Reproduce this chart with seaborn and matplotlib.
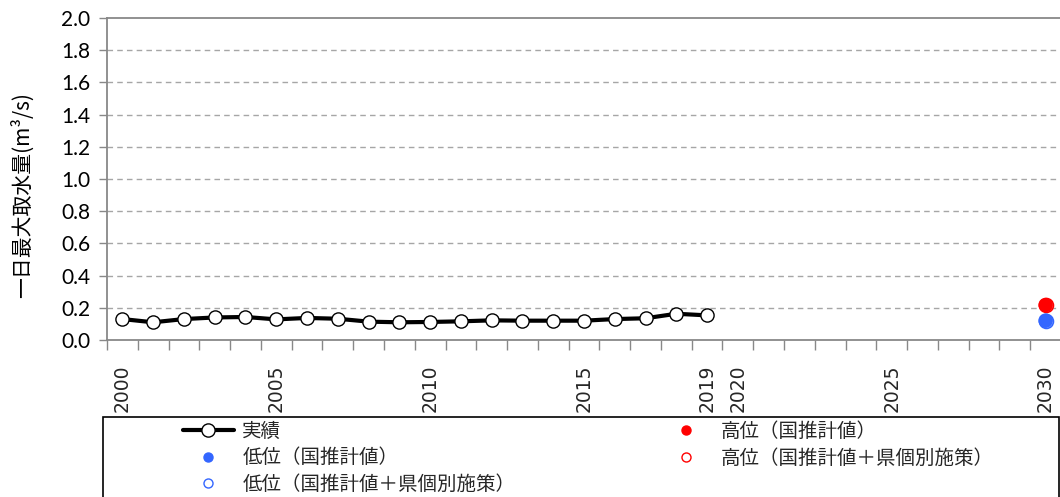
import matplotlib
matplotlib.use("Agg")
import matplotlib.pyplot as plt
from matplotlib.lines import Line2D
from matplotlib.patches import Rectangle
import seaborn as sns
import pandas as pd
import numpy as np

# ---- data ----
years = list(range(2000, 2031))
actual_years = list(range(2000, 2020))
actual_values = [0.13, 0.11, 0.13, 0.14, 0.143, 0.128, 0.137, 0.132, 0.114, 0.11,
                 0.112, 0.116, 0.122, 0.12, 0.12, 0.12, 0.13, 0.135, 0.163, 0.153]
proj_year = [2030]
high_national = [0.217]
low_national = [0.12]
high_pref = [0.217]
low_pref = [0.12]
tick_label_years = [2000, 2005, 2010, 2015, 2019, 2020, 2025, 2030]
y_ticks = [0.0, 0.2, 0.4, 0.6, 0.8, 1.0, 1.2, 1.4, 1.6, 1.8, 2.0]

ylabel = "一日最大取水量(m³/s)"
lab_actual = "実績"
lab_high = "高位（国推計値）"
lab_low = "低位（国推計値）"
lab_high_pref = "高位（国推計値＋県個別施策）"
lab_low_pref = "低位（国推計値＋県個別施策）"

sns.set_theme(style="white")
plt.rcParams['font.family'] = ['Noto Sans CJK JP', 'DejaVu Sans']

W, H = 1060, 497
fig = plt.figure(figsize=(W / 100, H / 100), dpi=100)
ax = fig.add_axes([107 / W, (H - 340) / H, (1061 - 107) / W, (340 - 18) / H])

BLUE = "#3366FF"
RED = "#FF0000"
GRID = "#A6A6A6"
AXC = "#888888"

df_act = pd.DataFrame({"year": actual_years, "value": actual_values})
sns.lineplot(data=df_act, x="year", y="value", ax=ax, color="black", linewidth=3.0,
             marker="o", markersize=9.5, markerfacecolor="white",
             markeredgecolor="black", markeredgewidth=1.0, zorder=5)

# projections (open markers first, filled on top)
sns.scatterplot(x=proj_year, y=high_pref, ax=ax, s=100, facecolor="white",
                edgecolor=RED, linewidth=1.2, zorder=4)
sns.scatterplot(x=proj_year, y=low_pref, ax=ax, s=100, facecolor="white",
                edgecolor=BLUE, linewidth=1.2, zorder=4)
sns.scatterplot(x=proj_year, y=high_national, ax=ax, s=110, color=RED,
                edgecolor="none", zorder=6)
sns.scatterplot(x=proj_year, y=low_national, ax=ax, s=110, color=BLUE,
                edgecolor="none", zorder=6)

ax.set_xlim(years[0] - 0.5, years[-1] + 0.5)
ax.set_ylim(0, 2.0)

# y axis
ax.set_yticks(y_ticks)
ax.set_yticklabels([f"{v:.1f}" for v in y_ticks], fontsize=15,
                   family=['Lato', 'DejaVu Sans'], color="black")
ax.tick_params(axis="y", direction="out", length=6, width=1, color=AXC, pad=6, left=True)
for v in y_ticks[1:-1]:
    ax.axhline(v, color=GRID, linewidth=1.0, linestyle=(0, (4, 3)), zorder=1)

# x axis: category-style ticks at boundaries, labels at selected centers
ax.set_xticks(tick_label_years)
ax.set_xticklabels([str(y) for y in tick_label_years], rotation=90, fontsize=13.5,
                   family=['DejaVu Sans'], va="top", ha="center")
ax.tick_params(axis="x", which="major", length=0, pad=18, bottom=True)
ax.set_xticks(np.arange(years[0] - 0.5, years[-1] + 1.0, 1.0), minor=True)
ax.tick_params(axis="x", which="minor", direction="out", length=7, width=1,
               color=AXC, bottom=True)

for side in ["left", "bottom", "top"]:
    ax.spines[side].set_visible(True)
    ax.spines[side].set_color(AXC)
    ax.spines[side].set_linewidth(1.3)
ax.spines["right"].set_visible(False)

ax.set_xlabel("")
ax.set_ylabel(ylabel, fontsize=15, color="black", ha="center", va="center")
ax.yaxis.set_label_coords((22 - 107) / 954, (340 - 195) / 322)

# legend box
rect = Rectangle((103 / W, -0.05), (1059 - 103) / W, (H - 417) / H + 0.05,
                 transform=fig.transFigure, facecolor="white", edgecolor="black",
                 linewidth=1.2, clip_on=False)
fig.patches.append(rect)

h_actual = Line2D([], [], color="black", linewidth=3.0, marker="o", markersize=9.5,
                  markerfacecolor="white", markeredgecolor="black", markeredgewidth=1.0)
h_low = Line2D([], [], linestyle="none", marker="o", markersize=6.5, color=BLUE)
h_low_pref = Line2D([], [], linestyle="none", marker="o", markersize=6.5,
                    markerfacecolor="white", markeredgecolor=BLUE, markeredgewidth=1.0)
h_high = Line2D([], [], linestyle="none", marker="o", markersize=6.5, color=RED)
h_high_pref = Line2D([], [], linestyle="none", marker="o", markersize=6.5,
                     markerfacecolor="white", markeredgecolor=RED, markeredgewidth=1.0)

common = dict(frameon=False, fontsize=14, handlelength=2.6, handletextpad=0.45,
              labelspacing=0.28, borderpad=0, borderaxespad=0, loc="upper left",
              bbox_transform=fig.transFigure)
fig.legend([h_actual, h_low, h_low_pref], [lab_actual, lab_low, lab_low_pref],
           bbox_to_anchor=(183 / W, 1 - 421 / H), **common)
fig.legend([h_high, h_high_pref], [lab_high, lab_high_pref],
           bbox_to_anchor=(661 / W, 1 - 421 / H), **common)

fig.savefig("out.png", dpi=100)
